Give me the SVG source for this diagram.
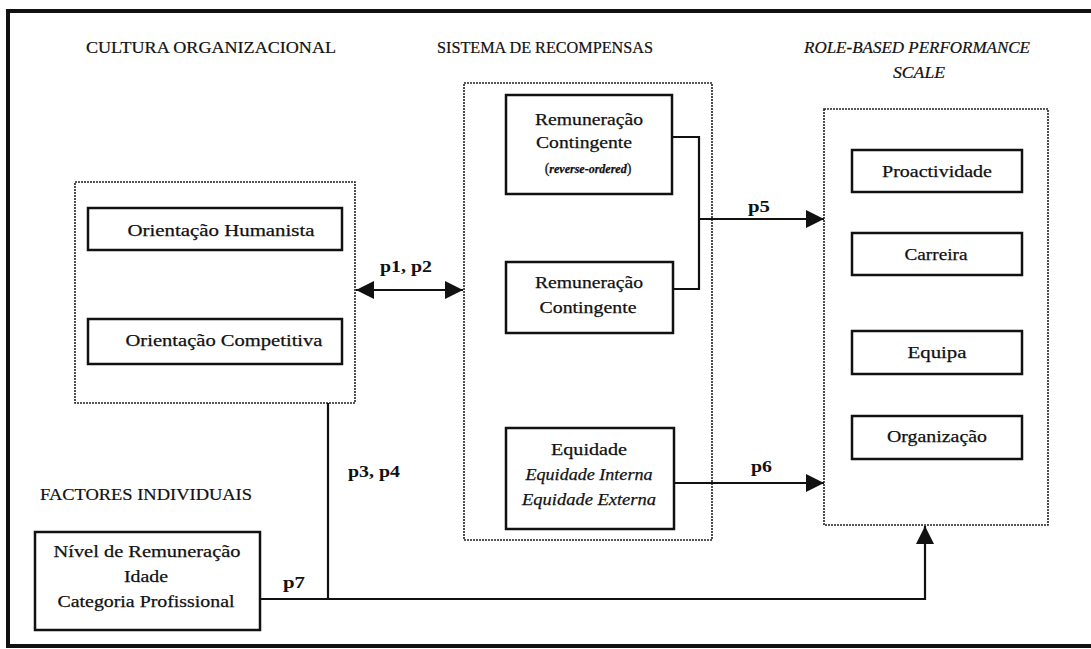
<svg xmlns="http://www.w3.org/2000/svg" width="1091" height="649" viewBox="0 0 1091 649">
<defs>
<style>
text{font-family:"Liberation Serif","Times New Roman",serif}
.t{font-size:17px;fill:#111;text-anchor:middle;stroke:#111;stroke-width:0.25}
.h{font-size:16px;fill:#111;stroke:#111;stroke-width:0.2}
.i{font-style:italic}
.lb{font-size:17px;font-weight:bold;fill:#111}
.box{fill:#fff;stroke:#111;stroke-width:2.5}
.dot{fill:none;stroke:#222;stroke-width:1.6;stroke-dasharray:2 1}
.ln{fill:none;stroke:#111;stroke-width:2.2}
</style>
<marker id="a" viewBox="0 0 18 18" refX="18" refY="9" markerWidth="18" markerHeight="18" markerUnits="userSpaceOnUse" orient="auto-start-reverse">
<path d="M0,0 L18,9 L0,18 z" fill="#111"/>
</marker>
</defs>
<rect x="0" y="0" width="1091" height="649" fill="#fff"/>
<rect id="frame" x="8" y="11" width="1090" height="635" fill="none" stroke="#111" stroke-width="4"/>

<g id="titles">
<text class="h" x="86" y="53" textLength="250" lengthAdjust="spacingAndGlyphs">CULTURA ORGANIZACIONAL</text>
<text class="h" x="437" y="53" textLength="216" lengthAdjust="spacingAndGlyphs">SISTEMA DE RECOMPENSAS</text>
<text class="h i" x="804" y="53" textLength="226" lengthAdjust="spacingAndGlyphs">ROLE-BASED PERFORMANCE</text>
<text class="h i" x="893" y="78" textLength="52" lengthAdjust="spacingAndGlyphs">SCALE</text>
<text class="h" x="40" y="500" textLength="212" lengthAdjust="spacingAndGlyphs">FACTORES INDIVIDUAIS</text>
</g>

<g id="cultura">
<rect class="dot" x="75" y="182" width="280" height="221"/>
</g>
<g id="humanista">
<rect class="box" x="88" y="208" width="254" height="42"/>
<text class="t" x="221" y="236" textLength="187" lengthAdjust="spacingAndGlyphs">Orientação Humanista</text>
</g>
<g id="competitiva">
<rect class="box" x="88" y="319" width="254" height="45"/>
<text class="t" x="224" y="346" textLength="197" lengthAdjust="spacingAndGlyphs">Orientação Competitiva</text>
</g>

<g id="recompensas">
<rect class="dot" x="464" y="83" width="248" height="457"/>
</g>
<g id="rem-reverse">
<rect class="box" x="506" y="95" width="166" height="99"/>
<text class="t" x="589" y="125" textLength="108" lengthAdjust="spacingAndGlyphs">Remuneração</text>
<text class="t" x="584" y="148" textLength="96" lengthAdjust="spacingAndGlyphs">Contingente</text>
<text class="t" x="588" y="173" style="font-size:14px">(<tspan style="font-style:italic;font-weight:bold;font-size:12px">reverse-ordered</tspan>)</text>
</g>
<g id="rem">
<rect class="box" x="506" y="262" width="167" height="71"/>
<text class="t" x="589" y="288" textLength="108" lengthAdjust="spacingAndGlyphs">Remuneração</text>
<text class="t" x="588" y="313" textLength="97" lengthAdjust="spacingAndGlyphs">Contingente</text>
</g>
<g id="equidade">
<rect class="box" x="506" y="428" width="168" height="101"/>
<text class="t" x="589" y="455" textLength="76" lengthAdjust="spacingAndGlyphs">Equidade</text>
<text class="t i" x="589" y="480" textLength="127" lengthAdjust="spacingAndGlyphs">Equidade Interna</text>
<text class="t i" x="589" y="505" textLength="134" lengthAdjust="spacingAndGlyphs">Equidade Externa</text>
</g>

<g id="performance">
<rect class="dot" x="824" y="109" width="224" height="416"/>
</g>
<g id="proactividade">
<rect class="box" x="852" y="150" width="170" height="42"/>
<text class="t" x="937" y="177" textLength="110" lengthAdjust="spacingAndGlyphs">Proactividade</text>
</g>
<g id="carreira">
<rect class="box" x="852" y="233" width="170" height="42"/>
<text class="t" x="936" y="260" textLength="63" lengthAdjust="spacingAndGlyphs">Carreira</text>
</g>
<g id="equipa">
<rect class="box" x="852" y="331" width="170" height="43"/>
<text class="t" x="937" y="358" textLength="59" lengthAdjust="spacingAndGlyphs">Equipa</text>
</g>
<g id="organizacao">
<rect class="box" x="852" y="416" width="170" height="43"/>
<text class="t" x="937" y="442" textLength="100" lengthAdjust="spacingAndGlyphs">Organização</text>
</g>

<g id="factores">
<rect class="box" x="35" y="532" width="225" height="98"/>
<text class="t" x="147" y="557" textLength="187" lengthAdjust="spacingAndGlyphs">Nível de Remuneração</text>
<text class="t" x="146" y="582" textLength="44" lengthAdjust="spacingAndGlyphs">Idade</text>
<text class="t" x="146" y="607" textLength="177" lengthAdjust="spacingAndGlyphs">Categoria Profissional</text>
</g>

<g id="connectors">
<path class="ln" d="M356,290 H463" marker-start="url(#a)" marker-end="url(#a)"/>
<path class="ln" d="M672,137 H699 V289 H673"/>
<path class="ln" d="M699,219 H824" marker-end="url(#a)"/>
<path class="ln" d="M674,483 H824" marker-end="url(#a)"/>
<path class="ln" d="M328,403 V599"/>
<path class="ln" d="M260,599 H925 V526" marker-end="url(#a)"/>
<text class="lb" x="380" y="272" textLength="52" lengthAdjust="spacingAndGlyphs">p1, p2</text>
<text class="lb" x="748" y="212" textLength="22" lengthAdjust="spacingAndGlyphs">p5</text>
<text class="lb" x="751" y="472" textLength="21" lengthAdjust="spacingAndGlyphs">p6</text>
<text class="lb" x="348" y="477" textLength="52" lengthAdjust="spacingAndGlyphs">p3, p4</text>
<text class="lb" x="283" y="588" textLength="22" lengthAdjust="spacingAndGlyphs">p7</text>
</g>
</svg>
